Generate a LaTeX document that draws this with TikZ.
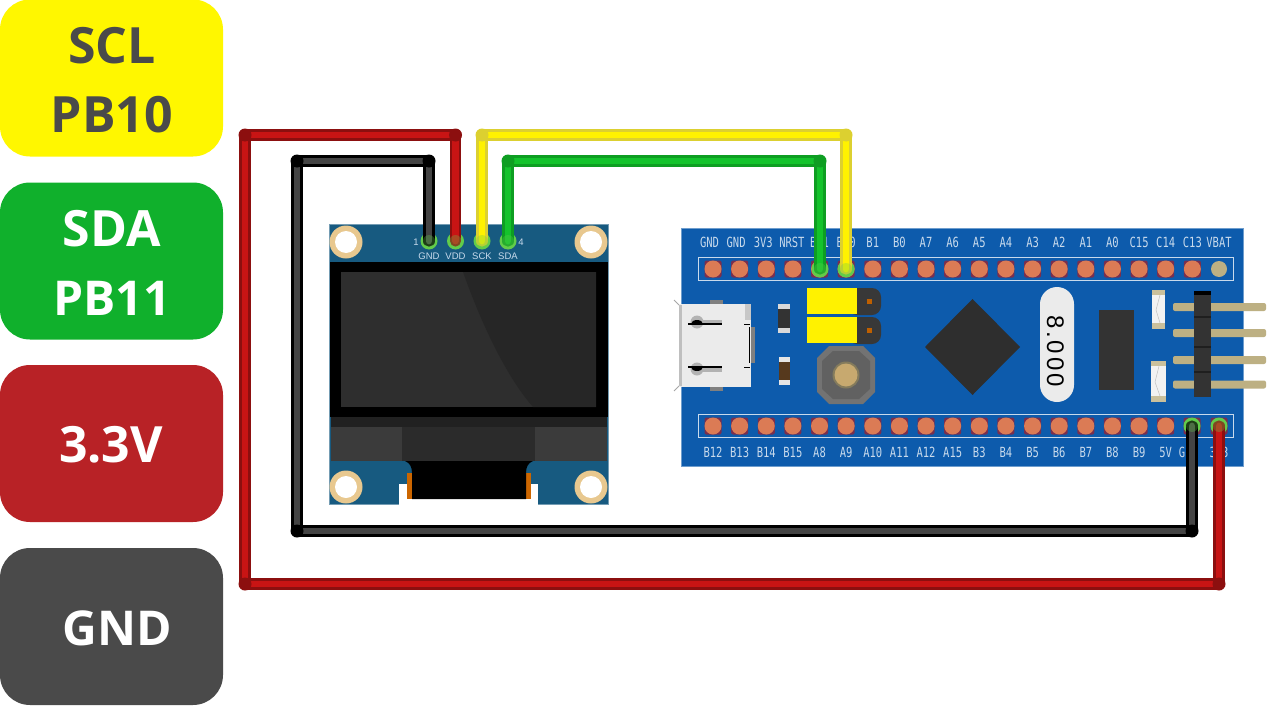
\documentclass[tikz,border=0pt]{standalone}
\usepackage{fontspec}
\setmainfont{Open Sans}
\newfontfamily\pinfont[FakeStretch=0.75]{DejaVu Sans Mono}
\newfontfamily\oledfont{Liberation Sans}
\newfontfamily\xtalfont[LetterSpace=12]{Liberation Sans}
\usetikzlibrary{shapes.geometric}
\definecolor{boxyellow}{HTML}{FFF700}
\definecolor{boxgreen}{HTML}{10B02C}
\definecolor{boxred}{HTML}{B82226}
\definecolor{boxgrey}{HTML}{4A4A4A}
\definecolor{oledblue}{HTML}{175A80}
\definecolor{stmblue}{HTML}{0D5BAC}
\definecolor{pinlight}{HTML}{C8DAEC}
\definecolor{padorange}{HTML}{DB7B55}
\definecolor{padback}{HTML}{7A2F4E}
\definecolor{holetan}{HTML}{E8C88F}
\definecolor{tanpin}{HTML}{BDB083}
\definecolor{chipdark}{HTML}{333333}
\definecolor{ringgreen}{HTML}{62CC4A}
\definecolor{wireredout}{HTML}{8C0F0F}
\definecolor{wireredin}{HTML}{C81414}
\definecolor{wireblackin}{HTML}{444444}
\definecolor{wireyellowout}{HTML}{DCD030}
\definecolor{wireyellowin}{HTML}{FFF200}
\definecolor{wiregreenout}{HTML}{0E9E22}
\definecolor{wiregreenin}{HTML}{14C32C}
\tikzset{
  box/.style={draw=none,rounded corners=30pt,minimum width=223pt,inner sep=0pt,minimum height=157pt},
  boxtext/.style={anchor=base,inner sep=0pt,font=\fontsize{50}{50}\selectfont\bfseries},
  boxtextsmall/.style={anchor=base,inner sep=0pt,font=\fontsize{48}{48}\selectfont\bfseries},
  pinpad/.style={rectangle,fill=padback,minimum size=17pt,inner sep=0pt,rounded corners=2pt},
  pindot/.style={circle,fill=padorange,minimum size=17pt,inner sep=0pt},
  pinlab/.style={font=\fontsize{14}{14}\pinfont,text=pinlight,inner sep=0pt},
  oledlab/.style={font=\fontsize{9.5}{9.5}\oledfont,text=pinlight,inner sep=0pt},
  holeout/.style={circle,fill=holetan,minimum size=33pt,inner sep=0pt},
  holein/.style={circle,fill=white,minimum size=22pt,inner sep=0pt},
  ring/.style={circle,fill=#1,minimum size=17pt,inner sep=0pt},
  wire/.style n args={2}{line width=2.2pt,draw=#1,double=#2,double distance=6.8pt,line join=round,line cap=round},
  joint/.style={circle,fill=#1,minimum size=13pt,inner sep=0pt},
  glow/.style={circle,fill=ringgreen,fill opacity=.3,minimum size=12pt,inner sep=0pt},
  strip/.style={draw=pinlight,line width=.8pt,fill=none},
  tanrect/.style={fill=tanpin,rounded corners=2pt},
}
\begin{document}
\begin{tikzpicture}[x=1pt,y=-1pt]
\useasboundingbox (0,0) rectangle (1280,720);
\fill[white] (0,0) rectangle (1280,720);

% legend boxes
\begin{scope}
\clip (0,0) rectangle (1280,720);
\node[box,fill=boxyellow] (boxscl) at (111.5,78) {};
\end{scope}
\node[box,fill=boxgreen] (boxsda) at (111.5,261) {};
\node[box,fill=boxred] (boxvcc) at (111.5,443.5) {};
\node[box,fill=boxgrey] (boxgnd) at (111.5,626.5) {};
\node[boxtext,text=boxgrey] (tscl) at (112,63) {SCL};
\node[boxtext,text=boxgrey] (tpb10) at (112,132) {PB10};
\node[boxtext,text=white] (tsda) at (112,246) {SDA};
\node[boxtextsmall,text=white] (tpb11) at (112,315) {PB11};
\node[boxtext,text=white] (tvcc) at (111,462) {3.3V};
\node[boxtextsmall,text=white] (tgnd) at (117,645) {GND};

% OLED module
\fill[oledblue,draw=oledblue!60!white,line width=.6pt] (329,224.5) rectangle (608,504);
\foreach \hx/\hy/\hn in {346/242/a,591/242/b,346/487/c,591/487/d}{
  \node[holeout] (ho\hn) at (\hx,\hy) {};
  \node[holein] (hi\hn) at (\hx,\hy) {};
}
\fill[black] (329.5,262) rectangle (607.5,417);
\fill[black!82] (341,272) rectangle (596,407);
\fill[black!85] (463,272) .. controls (480,320) and (505,375) .. (533,407) -- (596,407) -- (596,272) -- cycle;
\fill[black!87] (331,417) rectangle (607,427);
\fill[black!77] (331,427) rectangle (402,461);
\fill[black!77] (535,427) rectangle (607,461);
\fill[black!83] (402,427) rectangle (535,461);
\fill[white] (399,484) rectangle (538,505);
\fill[orange!80!black] (407,473) rectangle (531,499);
\fill[black] (405,461) .. controls (410,463) and (412,467) .. (412,473) -- (412,499) -- (526,499) -- (526,473) .. controls (526,467) and (528,463) .. (533,461) -- cycle;
\node[oledlab] (o1) at (416,242) {1};
\node[oledlab] (o4) at (521,242) {4};
\node[oledlab] (lgnd) at (429,256) {GND};
\node[oledlab] (lvdd) at (455.5,256) {VDD};
\node[oledlab] (lsck) at (482,256) {SCK};
\node[oledlab] (lsda) at (508,256) {SDA};
\node[ring=ringgreen] (ogn) at (429,241) {};
\node[ring=ringgreen] (ovd) at (455.5,241) {};
\node[ring=ringgreen] (osc) at (482,241) {};
\node[ring=ringgreen] (osd) at (508,241) {};

% STM32 board
\fill[stmblue,draw=stmblue!60!white,line width=.6pt] (681,228) rectangle (1243,466);
\draw[strip] (698,257) rectangle (1233,280);
\draw[strip] (698,414) rectangle (1233,437);
\foreach \lab/\dx [count=\i from 0] in {GND/-3.5,GND/-3.5,3V3/-3,NRST/-1,B11/0,B10/0,B1/0,B0/0,A7/0,A6/0,A5/0,A4/0,A3/0,A2/0,A1/0,A0/0,C15/0,C14/0,C13/0}{
  \node[pinpad] (ts\i) at ({713+26.63*\i},269) {};
  \node[pindot] (t\i) at ({713+26.63*\i},269) {};
  \node[pinlab] (tl\i) at ({713+26.63*\i+\dx},242) {\lab};
}
\node[circle,fill=tanpin,minimum size=16pt,inner sep=0pt] (t19) at (1219,269) {};
\node[pinlab] (tl19) at (1219,242) {VBAT};
\foreach \lab [count=\i from 0] in {B12,B13,B14,B15,A8,A9,A10,A11,A12,A15,B3,B4,B5,B6,B7,B8,B9,5V}{
  \node[pinpad] (bs\i) at ({713+26.63*\i},426) {};
  \node[pindot] (b\i) at ({713+26.63*\i},426) {};
  \node[pinlab] (bl\i) at ({713+26.63*\i},452) {\lab};
}
\node[pinpad] (bs18) at (1192,426) {};
\node[pinpad] (bs19) at (1219,426) {};
\node[pinlab] (bl18) at (1182,452) {G};
\node[pinlab] (bl19) at (1219,452) {3V3};
\node[ring=ringgreen] (tp4) at (820,269) {};
\node[ring=ringgreen] (tp5) at (846,269) {};
\node[ring=ringgreen] (bp18) at (1192,426) {};
\node[ring=ringgreen] (bp19) at (1219,426) {};

% yellow jumpers
\fill[black!78,rounded corners=9pt] (848,288) rectangle (881,315);
\fill[black!78,rounded corners=9pt] (848,317) rectangle (881,344);
\fill[yellow] (807,288) rectangle (857,314);
\fill[yellow] (807,317) rectangle (857,343);
\fill[orange!75!black] (866.5,299) rectangle (871.5,304);
\fill[orange!75!black] (866.5,327.5) rectangle (871.5,332.5);

% small resistors
\fill[black!80] (778,304) rectangle (790,333);
\fill[black!15] (778,304) rectangle (790,309);
\fill[black!15] (778,328) rectangle (790,333);
\fill[brown!45!black] (779,357) rectangle (790,385);
\fill[black!10] (779,357) rectangle (790,362);
\fill[black!10] (779,380) rectangle (790,385);

% push button
\fill[black!55] (829,346) -- (863,346) -- (875,358) -- (875,392) -- (863,404) -- (829,404) -- (817,392) -- (817,358) -- cycle;
\fill[black!62] (833,351) -- (859,351) -- (870,361) -- (870,389) -- (859,399) -- (833,399) -- (822,389) -- (822,361) -- cycle;
\fill[tanpin!70!black] (846,375) circle (13.5);
\fill[tanpin!85!orange] (846,375) circle (11.5);

% USB connector
\fill[black!50] (710,300) rectangle (723,304);
\fill[black!50] (710,387) rectangle (723,391);
\fill[black!50] (751,327) rectangle (755,363);
\draw[black!35,line width=1pt] (679,305) -- (674,300);
\draw[black!35,line width=1pt] (679,386) -- (674,391);
\fill[black!8] (679,304) rectangle (751,387);
\fill[black!25] (679,305) rectangle (682,386);
\fill[black!22] (745,304) rectangle (751,320);
\fill[black!30] (697,322) circle (6.5);
\fill[black!30] (697,369) circle (6.5);
\fill[black!30] (700,320) rectangle (722,323);
\fill[black!30] (700,368) rectangle (722,372);
\draw[black,line width=1.6pt] (688,324) -- (722,324);
\draw[black,line width=1.6pt] (688,367) -- (722,367);
\fill[black] (691,324) arc (180:360:6 and 4) -- cycle;
\fill[black] (691,367) arc (180:0:6 and 4) -- cycle;
\draw[black,line width=1.6pt] (749.5,327) -- (749.5,363);
\draw[black,line width=1pt] (744,324) -- (750,324);
\draw[black,line width=1pt] (744,367) -- (750,367);

% MCU
\fill[black!82] (925,347) -- (972.5,299) -- (1020,347) -- (972.5,395) -- cycle;

% crystal
\fill[black!8,rounded corners=17pt] (1040,287) rectangle (1074,402);
\node[font=\fontsize{24}{24}\xtalfont,rotate=-90,inner sep=0pt,text=black] (xtal) at (1055.5,351) {8.000};

% IC
\fill[chipdark] (1099,310) rectangle (1134,390);

% LEDs
\fill[black!5] (1152,290) rectangle (1165,329);
\fill[tanpin!80!white] (1152,290) rectangle (1165,295);
\fill[tanpin!80!white] (1152,323) rectangle (1165,329);
\draw[black!25,line width=.5pt] (1160,295) -- (1156,310) -- (1160,323);
\fill[black!5] (1151,361) rectangle (1166,402);
\fill[tanpin!80!white] (1151,361) rectangle (1166,366);
\fill[tanpin!80!white] (1151,396) rectangle (1166,402);
\draw[black!25,line width=.5pt] (1159,366) -- (1155,382) -- (1160,396);

% right-angle header
\foreach \py in {307,333,360,384.5}{
  \fill[tanrect] (1173,{\py-4}) rectangle (1266,{\py+4});
}
\fill[chipdark] (1194,293) rectangle (1211,397);
\fill[black] (1194,291) rectangle (1211,295);
\foreach \py in {316.5,346.5,372}{
  \fill[black!88] (1194,{\py-1}) rectangle (1211,{\py+1});
}

% wire corners
\coordinate (r1) at (455.5,135);
\coordinate (r2) at (245,135);
\coordinate (r3) at (245,584);
\coordinate (r4) at (1219,584);
\coordinate (k1) at (429,161);
\coordinate (k2) at (297,161);
\coordinate (k3) at (297,531);
\coordinate (k4) at (1192,531);
\coordinate (y1) at (482,135);
\coordinate (y2) at (846,135);
\coordinate (g1) at (508,161);
\coordinate (g2) at (820,161);

% wires
\draw[wire={black}{wireblackin}] (ogn.center) -- (k1) -- (k2) -- (k3) -- (k4) -- (bp18.center);
\draw[wire={wireredout}{wireredin}] (ovd.center) -- (r1) -- (r2) -- (r3) -- (r4) -- (bp19.center);
\draw[wire={wireyellowout}{wireyellowin}] (osc.center) -- (y1) -- (y2) -- (tp5.center);
\draw[wire={wiregreenout}{wiregreenin}] (osd.center) -- (g1) -- (g2) -- (tp4.center);

% wire joints
\foreach \j in {r1,r2,r3,r4}{\node[joint=wireredout] (j\j) at (\j) {};}
\foreach \j in {k1,k2,k3,k4}{\node[joint=black] (j\j) at (\j) {};}
\foreach \j in {y1,y2}{\node[joint=wireyellowout] (j\j) at (\j) {};}
\foreach \j in {g1,g2}{\node[joint=wiregreenout] (j\j) at (\j) {};}

% wire ends
\foreach \j in {ogn,ovd,osc,osd,tp4,tp5,bp18,bp19}{\node[glow] (e\j) at (\j) {};}
\end{tikzpicture}
\end{document}
